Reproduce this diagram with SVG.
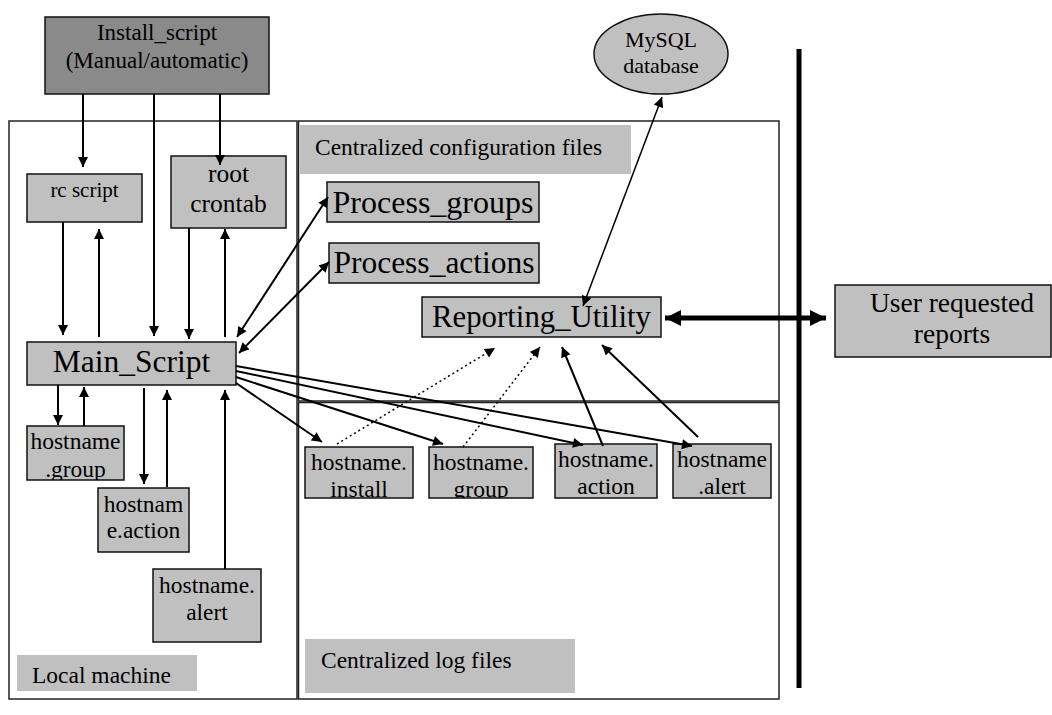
<svg xmlns="http://www.w3.org/2000/svg" width="1052" height="715" viewBox="0 0 1052 715" font-family="'Liberation Serif', 'Times New Roman', 'DejaVu Serif', 'Noto Serif', serif">
<style>
text{font-family:'Liberation Serif','Times New Roman','DejaVu Serif',serif;fill:#000}
.c{text-anchor:middle}
.box{fill:#c0c0c0;stroke:#111;stroke-width:1.5}
.frame{fill:none;stroke:#222;stroke-width:1.5}
.lbl{fill:#c0c0c0;stroke:none}
.ln{fill:none;stroke:#000;stroke-width:2}
.thin{fill:none;stroke:#000;stroke-width:1.5}
.dot{fill:none;stroke:#000;stroke-width:1.5;stroke-dasharray:2,3}
.f24{font-size:23.5px}
</style>
<defs>
<marker id="ah" viewBox="0 0 10 10" refX="10" refY="5" markerUnits="userSpaceOnUse" markerWidth="11" markerHeight="10" orient="auto-start-reverse"><path d="M0,0L10,5L0,10z" fill="#000"/></marker>
<marker id="big" viewBox="0 0 10 10" refX="10" refY="5" markerUnits="userSpaceOnUse" markerWidth="16" markerHeight="20" orient="auto-start-reverse"><path d="M0,0L10,5L0,10z" fill="#000"/></marker>
<clipPath id="cg"><rect x="27" y="426" width="97" height="54"/></clipPath>
<clipPath id="ci"><rect x="305" y="447" width="108" height="51"/></clipPath>
<clipPath id="cgr"><rect x="429" y="447" width="104" height="51"/></clipPath>
<clipPath id="cac"><rect x="555" y="444" width="102" height="54"/></clipPath>
<clipPath id="cal"><rect x="673" y="444" width="98" height="54"/></clipPath>
</defs>

<g id="frames">
<rect class="frame" x="9" y="121" width="288" height="578"/>
<rect class="frame" x="298.5" y="121" width="480.5" height="280"/>
<rect class="frame" x="298.5" y="402.5" width="480.5" height="296.5"/>
<line x1="799" y1="49" x2="799" y2="688" stroke="#000" stroke-width="5"/>
</g>

<g id="label-config"><rect class="lbl" x="300" y="125" width="331" height="49"/><text class="f24" x="315" y="155">Centralized configuration files</text></g>
<g id="label-local"><rect class="lbl" x="17" y="655" width="180" height="36"/><text class="f24" x="32" y="683">Local machine</text></g>
<g id="label-log"><rect class="lbl" x="305" y="639" width="270" height="54"/><text class="f24" x="321" y="668">Centralized log files</text></g>

<g id="install-script"><rect x="45" y="17" width="224" height="77" fill="#8a8a8a" stroke="#111" stroke-width="1.5"/><text class="c" x="157" y="40" font-size="23">Install_script</text><text class="c" x="157" y="68" font-size="23">(Manual/automatic)</text></g>
<g id="mysql"><ellipse cx="661" cy="54" rx="67" ry="40" fill="#c0c0c0" stroke="#111" stroke-width="1.5"/><text class="c" x="661" y="47" font-size="22">MySQL</text><text class="c" x="661" y="73" font-size="22">database</text></g>
<g id="rc-script"><rect class="box" x="27" y="174" width="115" height="48"/><text class="c" x="84.5" y="197" font-size="21">rc script</text></g>
<g id="root-crontab"><rect class="box" x="171" y="156" width="115" height="72"/><text class="c" x="228.5" y="182" font-size="25.5">root</text><text class="c" x="228.5" y="212" font-size="25.5">crontab</text></g>
<g id="main-script"><rect class="box" x="27" y="342" width="209" height="43"/><text class="c" x="131.5" y="372" font-size="31.5">Main_Script</text></g>
<g id="process-groups"><rect class="box" x="327" y="182" width="212" height="40"/><text class="c" x="433" y="213" font-size="32">Process_groups</text></g>
<g id="process-actions"><rect class="box" x="329" y="243" width="210" height="40"/><text class="c" x="434" y="273" font-size="31.5">Process_actions</text></g>
<g id="reporting-utility"><rect class="box" x="422" y="297" width="239" height="40"/><text class="c" x="541.5" y="327" font-size="30.8">Reporting_Utility</text></g>
<g id="user-reports"><rect class="box" x="835" y="285" width="216" height="72"/><text class="c" x="952" y="312" font-size="27.5">User requested</text><text class="c" x="952" y="343" font-size="27.5">reports</text></g>

<g id="l-group"><rect class="box" x="27" y="426" width="97" height="54"/><g clip-path="url(#cg)"><text class="c f24" x="75.5" y="449">hostname</text><text class="c f24" x="75.5" y="477">.group</text></g></g>
<g id="l-action"><rect class="box" x="98" y="488" width="91" height="64"/><text class="c f24" x="143.5" y="512">hostnam</text><text class="c f24" x="143.5" y="538">e.action</text></g>
<g id="l-alert"><rect class="box" x="153" y="569" width="108" height="73"/><text class="c f24" x="207" y="593">hostname.</text><text class="c f24" x="207" y="620">alert</text></g>

<g id="r-install"><rect class="box" x="305" y="447" width="108" height="51"/><g clip-path="url(#ci)"><text class="c f24" x="359" y="470">hostname.</text><text class="c f24" x="359" y="497">install</text></g></g>
<g id="r-group"><rect class="box" x="429" y="447" width="104" height="51"/><g clip-path="url(#cgr)"><text class="c f24" x="481" y="470">hostname.</text><text class="c f24" x="481" y="497">group</text></g></g>
<g id="r-action"><rect class="box" x="555" y="444" width="102" height="54"/><g clip-path="url(#cac)"><text class="c f24" x="606" y="467">hostname.</text><text class="c f24" x="606" y="494">action</text></g></g>
<g id="r-alert"><rect class="box" x="673" y="444" width="98" height="54"/><g clip-path="url(#cal)"><text class="c f24" x="722" y="467">hostname</text><text class="c f24" x="722" y="494">.alert</text></g></g>

<g id="connectors">
<line class="ln" x1="83" y1="94" x2="83" y2="167" marker-end="url(#ah)"/>
<line class="ln" x1="154" y1="94" x2="154" y2="336" marker-end="url(#ah)"/>
<line class="ln" x1="220" y1="94" x2="220" y2="165" marker-end="url(#ah)"/>
<line class="ln" x1="63" y1="222" x2="63" y2="335" marker-end="url(#ah)"/>
<line class="ln" x1="99" y1="337" x2="99" y2="229" marker-end="url(#ah)"/>
<line class="ln" x1="189" y1="228" x2="189" y2="339" marker-end="url(#ah)"/>
<line class="ln" x1="225" y1="337" x2="225" y2="229" marker-end="url(#ah)"/>
<line class="ln" x1="237" y1="337" x2="328" y2="197" marker-start="url(#ah)" marker-end="url(#ah)"/>
<line class="ln" x1="239" y1="353" x2="329" y2="262" marker-start="url(#ah)" marker-end="url(#ah)"/>
<line class="ln" x1="58" y1="385" x2="58" y2="425" marker-end="url(#ah)"/>
<line class="ln" x1="84" y1="426" x2="84" y2="387" marker-end="url(#ah)"/>
<line class="ln" x1="144" y1="388" x2="144" y2="484" marker-end="url(#ah)"/>
<line class="ln" x1="167" y1="487" x2="167" y2="390" marker-end="url(#ah)"/>
<line class="ln" x1="225" y1="569" x2="225" y2="390" marker-end="url(#ah)"/>
<line class="ln" x1="236" y1="366" x2="692" y2="446" marker-end="url(#ah)"/>
<line class="ln" x1="236" y1="371" x2="583" y2="445" marker-end="url(#ah)"/>
<line class="ln" x1="236" y1="377" x2="443" y2="444" marker-end="url(#ah)"/>
<line class="ln" x1="236" y1="383" x2="322" y2="442" marker-end="url(#ah)"/>
<line class="dot" x1="337" y1="444" x2="495" y2="348" marker-end="url(#ah)"/>
<line class="dot" x1="463" y1="447" x2="540" y2="347" marker-end="url(#ah)"/>
<line class="ln" x1="603" y1="446" x2="562" y2="347" marker-end="url(#ah)"/>
<line class="ln" x1="698" y1="437" x2="602" y2="345" marker-end="url(#ah)"/>
<line class="thin" x1="583" y1="306" x2="662" y2="97" marker-start="url(#ah)" marker-end="url(#ah)"/>
<line x1="665" y1="318" x2="826" y2="318" stroke="#000" stroke-width="5" marker-start="url(#big)" marker-end="url(#big)"/>
</g>
</svg>
